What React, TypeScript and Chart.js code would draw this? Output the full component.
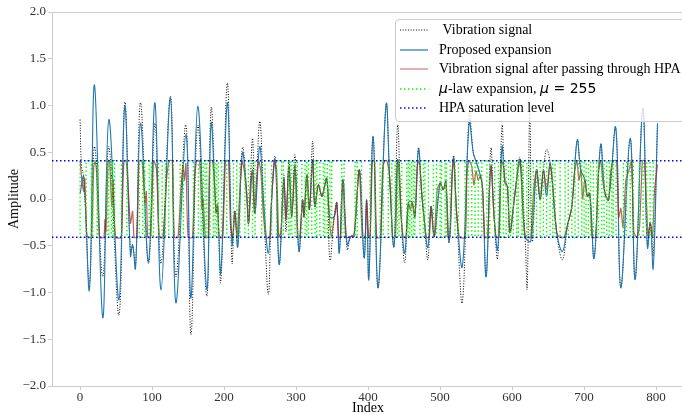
import React, { useEffect, useRef } from "react";
import { Chart, registerables } from "chart.js";

Chart.register(...registerables);

// Axis ticks
const xTicks = [0, 100, 200, 300, 400, 500, 600, 700, 800];
const yTicks = [-2, -1.5, -1, -0.5, 0, 0.5, 1, 1.5, 2];

// HPA saturation amplitude
const hpaSaturation = 0.41;

// Original vibration signal: [index, amplitude]
const vibrationSignal: [number, number][] = [
  [0, 0.85], [2, 0.35], [5, 0.24], [13, -0.9], [20, 0.56], [31.5, -0.83], [40, 0.56], [54, -1.24],
  [62, 1.03], [70, -0.58], [73, -0.49], [77, -0.74], [84, 1.03], [95, -0.69], [104, 0.81], [112.5, -0.69],
  [125.5, 1.1], [133, -0.83], [147, 0.79], [154, -1.45], [163.5, 0.79], [176, -1.04], [182, 0.97],
  [189, -0.15], [191, -0.08], [195.5, -0.88], [204.5, 1.24], [211, -0.68], [215, -0.13], [219, -0.51],
  [225.5, 0.55], [231.5, 0.06], [234, -0.26], [239.5, 0.65], [243, -0.15], [249.5, 0.83], [255, -0.04],
  [261.5, -1.02], [266, -0.01], [271, 0.45], [276.5, -0.7], [283, 0.25], [286, -0.35], [290, 0.4],
  [294, -0.19], [298.5, 0.47], [304, -0.56], [309, -0.01], [311, -0.19], [315, 0.26], [318.5, -0.11],
  [323, 0.62], [326, -0.08], [331, 0.15], [336, 0.03], [342.5, 0.22], [347, -0.65], [353, -0.19],
  [356.5, -0.04], [360, -0.56], [365, 0.21], [371, -0.54], [376, -0.4], [380.5, -0.4], [388, 0.31],
  [394.5, -0.63], [398, -0.01], [401, -0.85], [407, 0.67], [414, -0.95], [425, 1.01], [430.5, 0.13],
  [436, -0.51], [441, 0.79], [446, -0.19], [451, -0.68], [456, -0.04], [461, -0.03], [465, -0.19],
  [470, 0.55], [474.5, 0.06], [478, -0.22], [483, -0.65], [487.5, -0.08], [492, -0.4], [500, 0.17],
  [504.5, 0.1], [508, 0.19], [512.5, -0.47], [518.5, 0.46], [523, -0.15], [531, -1.1], [540.5, 0.92],
  [546, 0.5], [550, 0.4], [556, 0.25], [559, 0.12], [564, -0.83], [570.5, 0.54], [575, -0.19],
  [580, -0.63], [586, 0.78], [590, 0.2], [593.5, 0.13], [597, -0.36], [604, 0.06], [611, 0.44],
  [618, -0.4], [621, -0.95], [624.5, 0.92], [628, -0.45], [634, 0.31], [639, -0.01], [643.5, 0.31],
  [648, 0.53], [653, 0.38], [662, -0.36], [670, -0.65], [677, -0.28], [683, -0.08], [690.5, 0.63],
  [695.5, 0.31], [701, 0.21], [704.5, 0.03], [708, 0.06], [714, -0.63], [723, 0.58], [729, 0.06],
  [734, -0.01], [744, 0.76], [751, -0.95], [764, 0.65], [771, -0.86], [781.5, 0.97], [788, -0.52],
  [792, -0.25], [796, -0.6], [802, 0.81],
];

// Proposed expansion output: [index, amplitude]
const proposedExpansion: [number, number][] = [
  [0, 0.06], [5, 0.24], [13, -0.97], [20, 1.22], [31.5, -1.27], [40, 0.85], [54, -1.08], [62, 0.99],
  [70, -0.61], [73, -0.49], [77, -0.74], [84, 0.81], [95, -0.67], [104, 1.03], [112.5, -0.97],
  [125.5, 1.08], [133, -1.11], [147, 0.69], [154, -1.06], [163.5, 0.99], [176, -0.97], [182, 0.81],
  [189, -0.15], [191, -0.08], [195.5, -0.79], [204.5, 1.03], [211, -0.49], [215, -0.13], [219, -0.51],
  [225.5, 0.49], [231.5, 0.06], [234, -0.26], [239.5, 0.31], [243, -0.15], [249.5, 0.56], [255, -0.04],
  [261.5, -0.58], [266, -0.01], [271, 0.42], [276.5, -0.7], [283, 0.21], [286, -0.22], [290, 0.35],
  [294, -0.19], [298.5, 0.35], [304, -0.56], [309, -0.01], [311, -0.19], [315, 0.26], [318.5, -0.11],
  [323, 0.42], [326, -0.08], [331, 0.15], [336, 0.03], [342.5, 0.22], [347, -0.19], [353, -0.19],
  [356.5, -0.04], [360, -0.58], [365, 0.21], [371, -0.49], [376, -0.4], [380.5, -0.4], [388, 0.31],
  [394.5, -0.63], [398, -0.01], [401, -0.86], [407, 0.67], [414, -0.95], [425, 1.01], [430.5, 0.13],
  [436, -0.51], [441, 0.42], [446, -0.19], [451, -0.58], [456, -0.04], [461, -0.03], [465, -0.19],
  [470, 0.53], [474.5, 0.06], [478, -0.22], [483, -0.52], [487.5, -0.08], [492, -0.4], [500, 0.17],
  [504.5, 0.1], [508, 0.19], [512.5, -0.45], [518.5, 0.44], [523, -0.15], [531, -0.72], [540.5, 0.83],
  [546, 0.5], [550, 0.4], [556, 0.25], [559, 0.12], [564, -0.83], [570.5, 0.35], [575, -0.19],
  [580, -0.54], [586, 0.56], [590, 0.2], [593.5, 0.13], [597, -0.36], [604, 0.06], [611, 0.42],
  [618, -0.4], [626, -0.45], [634, 0.31], [639, -0.01], [643.5, 0.31], [648, 0.03], [653, 0.38],
  [662, -0.36], [670, -0.56], [677, -0.28], [683, -0.08], [690.5, 0.63], [695.5, 0.31], [701, 0.21],
  [704.5, 0.03], [708, 0.06], [714, -0.63], [723, 0.58], [729, 0.06], [734, -0.01], [744, 0.76],
  [751, -0.95], [764, 0.65], [771, -0.86], [781.5, 0.97], [788, -0.52], [792, -0.25], [796, -0.74],
  [802, 0.81],
];

// Signal after the HPA (saturated): [index, amplitude]
const hpaOutput: [number, number][] = [
  [0, 0.41], [2.5, 0.2], [5, 0.08], [6.5, 0.22], [9, -0.35], [11, -0.41], [16, -0.41], [19, 0.35],
  [21, 0.4], [23, 0.27], [27, -0.41], [33, -0.41], [34.5, -0.22], [36, -0.35], [39, 0.41], [41, 0.41],
  [44, -0.08], [46, 0.2], [49, -0.41], [57, -0.41], [59, 0.0], [61, 0.41], [64, 0.41], [67, 0.1],
  [70, -0.26], [73, -0.13], [75, -0.41], [79, -0.41], [82, 0.41], [86, 0.41], [90, -0.05], [92, 0.08],
  [94, -0.41], [98, -0.41], [102, 0.41], [106, 0.33], [110, -0.41], [115, -0.41], [120, 0.2],
  [124, 0.41], [128, 0.41], [131, -0.41], [136, -0.41], [140, 0.1], [143, 0.35], [145, 0.2],
  [147, 0.38], [150, -0.41], [156, -0.41], [159, 0.2], [162, 0.41], [166, 0.41], [169, -0.1],
  [171, 0.0], [174, -0.41], [178, -0.41], [180, 0.41], [184, 0.41], [187, 0.1], [189, -0.15],
  [191, -0.05], [193, -0.41], [198, -0.41], [202, 0.41], [206, 0.41], [209, -0.3], [212, -0.41],
  [215, -0.13], [218, -0.41], [222, 0.1], [225, 0.41], [228, 0.3], [231, 0.06], [234, -0.26],
  [237, 0.2], [239.5, 0.31], [242, -0.15], [245, 0.2], [248, 0.41], [251, 0.3], [254, -0.1],
  [258, -0.41], [264, -0.41], [266, -0.01], [270, 0.41], [273, 0.3], [276, -0.41], [279, -0.35],
  [283, 0.21], [286, -0.22], [290, 0.35], [294, -0.19], [298.5, 0.35], [302, -0.41], [305, -0.41],
  [309, -0.01], [311, -0.19], [315, 0.26], [318.5, -0.11], [323, 0.41], [326, -0.08], [331, 0.15],
  [336, 0.03], [342.5, 0.22], [346, -0.19], [349, -0.41], [353, -0.19], [356.5, -0.04], [359, -0.41],
  [362, -0.41], [365, 0.21], [369, -0.41], [373, -0.41], [376, -0.4], [380.5, -0.38], [384, 0.0],
  [388, 0.31], [392, -0.41], [396, -0.41], [398, -0.01], [401, -0.41], [403, -0.41], [406, 0.41],
  [409, 0.41], [412, -0.41], [417, -0.41], [420, 0.3], [423, 0.41], [426, 0.41], [429, 0.3],
  [431, 0.13], [434, -0.41], [438, -0.41], [441, 0.41], [443, 0.41], [446, -0.19], [449, -0.41],
  [453, -0.41], [456, -0.04], [459, -0.12], [461, -0.03], [465, -0.19], [468, 0.3], [470, 0.41],
  [472, 0.35], [474.5, 0.06], [478, -0.22], [481, -0.41], [485, -0.41], [487.5, -0.08], [490, -0.3],
  [492, -0.4], [496, 0.1], [500, 0.17], [504.5, 0.1], [508, 0.19], [511, -0.41], [514, -0.41],
  [517, 0.3], [519, 0.41], [523, -0.15], [527, -0.41], [535, -0.41], [537, 0.2], [540, 0.41],
  [544, 0.35], [547, 0.15], [550, 0.3], [553, 0.2], [556, 0.25], [559, 0.1], [562, -0.41],
  [566, -0.41], [569, 0.2], [571, 0.35], [575, -0.19], [578, -0.41], [582, -0.41], [585, 0.41],
  [588, 0.35], [590, 0.17], [593.5, 0.13], [597, -0.36], [600, -0.2], [604, 0.06], [608, 0.3],
  [611, 0.41], [615, -0.1], [618, -0.4], [622, -0.41], [626, -0.41], [630, 0.1], [634, 0.31],
  [639, -0.01], [643.5, 0.31], [648, 0.1], [653, 0.38], [657, 0.1], [662, -0.36], [666, -0.41],
  [672, -0.41], [677, -0.28], [683, -0.08], [687, 0.3], [690, 0.41], [693, 0.2], [695.5, 0.31],
  [698, 0.0], [701, 0.21], [704.5, 0.03], [708, 0.06], [711, -0.41], [716, -0.41], [720, 0.3],
  [723, 0.41], [726, 0.2], [729, 0.06], [734, -0.01], [737, 0.3], [741, 0.41], [745, 0.41],
  [748, -0.2], [751, -0.1], [754, -0.3], [758, 0.2], [762, 0.3], [766, 0.41], [769, -0.35],
  [773, -0.41], [777, -0.3], [781, 0.41], [784, 0.41], [787, -0.1], [789, -0.4], [792, -0.25],
  [795, -0.41], [798, 0.1], [802, 0.37],
];

// mu-law expansion: indices where the output flips between +/- saturation
const muLawStartLevel = 0.41;
const muLawSwitches = [
  8.3, 15.7, 17.6, 23.6, 25, 37.5, 39.8, 43.5, 45.4, 48, 57.4, 65, 82.4, 87, 89.8, 96, 99, 102, 109,
  114, 118.5, 123, 129.6, 139, 143.5, 157.4, 164.3, 168, 171, 173.6, 176, 180.6, 185, 187.5, 189.8,
  192, 196.8, 203.7, 213, 217.6, 222, 229, 233.8, 239.4, 243, 252.3, 257, 266, 273, 280, 282.4,
  289.4, 291.7, 294, 298.6, 301.8, 308, 312.5, 314.8, 317, 321.8, 326.4, 328.7, 333, 338, 340,
  343.5, 347, 349.5, 363.4, 366.7, 382, 385, 391, 402.8, 409.7, 416.7, 421, 428, 433, 437.5, 441,
  443, 446.8, 453.7, 456, 458, 460.6, 463, 465, 472, 476.8, 479, 483.8, 490.7, 495, 500, 502, 507,
  509, 514, 520.8, 525.5, 534.7, 539, 544, 548.6, 553, 558, 565, 569, 576, 581, 584, 588, 591.7,
  595, 598, 601.8, 606.5, 608.8, 613.5, 615.7, 620.4, 625, 629.6, 634, 639, 643.5, 648, 652.8,
  656.5, 659.7, 666.7, 673.6, 678, 683, 687.5, 692, 696.8, 700, 702.8, 706, 709, 713, 717.6, 720,
  724.6, 727.8, 731.5, 735, 738.5, 740.7, 744.4, 754.6, 759, 764, 768.5, 776.8, 782, 787, 791.7,
  796, 800,
];
const muLawEnd = 802;

const xMin = -39;
const xMax = 836;

const serif = "'Liberation Serif', 'Times New Roman', serif";
const mathFont = "'DejaVu Sans', sans-serif";
const spineColor = "#cccccc";
const textColor = "#333333";

const toPoints = (pairs: [number, number][]) => pairs.map(([x, y]) => ({ x, y }));

function buildMuLaw() {
  const pts = [{ x: 0, y: muLawStartLevel }];
  let level = muLawStartLevel;
  for (const t of muLawSwitches) {
    level = -level;
    pts.push({ x: t, y: level });
  }
  pts.push({ x: muLawEnd, y: level });
  return pts;
}

const topSpine = {
  id: "topSpine",
  afterDraw(chart: any) {
    const { ctx, chartArea } = chart;
    ctx.save();
    ctx.strokeStyle = spineColor;
    ctx.lineWidth = 1;
    ctx.beginPath();
    ctx.moveTo(chartArea.left, chartArea.top + 0.5);
    ctx.lineTo(chartArea.right, chartArea.top + 0.5);
    ctx.stroke();
    ctx.restore();
  },
};

type LegendEntry = {
  label: React.ReactNode;
  color: string;
  dash?: string;
  width: number;
  opacity?: number;
};

const legendEntries: LegendEntry[] = [
  { label: "\u00a0Vibration signal", color: "#000000", dash: "1 1.65", width: 1 },
  { label: "Proposed expansion", color: "#1f77b4", width: 1.2 },
  { label: "Vibration signal after passing through HPA", color: "#a52a2a", width: 1.2, opacity: 0.6 },
  {
    label: (
      <>
        <span style={{ fontFamily: mathFont, fontStyle: "italic" }}>μ</span>-law expansion,{" "}
        <span style={{ fontFamily: mathFont }}>
          <i>μ</i> = 255
        </span>
      </>
    ),
    color: "#00ff00",
    dash: "1.5 2.5",
    width: 1.5,
  },
  { label: "HPA saturation level", color: "#0000ff", dash: "1.5 2.5", width: 1.5 },
];

export default function App() {
  const canvasRef = useRef<HTMLCanvasElement | null>(null);

  useEffect(() => {
    if (!canvasRef.current) return;
    const satLine = (y: number) => [
      { x: xMin, y },
      { x: xMax, y },
    ];
    const chart = new Chart(canvasRef.current, {
      type: "line",
      data: {
        datasets: [
          {
            label: "Vibration signal",
            data: toPoints(vibrationSignal),
            borderColor: "#000000",
            borderWidth: 1,
            borderDash: [1, 1.65],
            pointRadius: 0,
            tension: 0.4,
            order: 5,
          },
          {
            label: "Proposed expansion",
            data: toPoints(proposedExpansion),
            borderColor: "#1f77b4",
            borderWidth: 1.1,
            pointRadius: 0,
            tension: 0.4,
            order: 4,
          },
          {
            label: "Vibration signal after passing through HPA",
            data: toPoints(hpaOutput),
            borderColor: "rgba(165,42,42,0.75)",
            borderWidth: 1.2,
            pointRadius: 0,
            tension: 0.2,
            order: 3,
          },
          {
            label: "μ-law expansion, μ = 255",
            data: buildMuLaw(),
            borderColor: "#00ff00",
            borderWidth: 1.4,
            borderDash: [1.5, 2.5],
            pointRadius: 0,
            stepped: "after",
            order: 2,
          },
          {
            label: "HPA saturation level",
            data: satLine(hpaSaturation),
            borderColor: "#0000ff",
            borderWidth: 1.5,
            borderDash: [1.5, 2.5],
            pointRadius: 0,
            order: 1,
          },
          {
            label: "HPA saturation level (lower)",
            data: satLine(-hpaSaturation),
            borderColor: "#0000ff",
            borderWidth: 1.5,
            borderDash: [1.5, 2.5],
            pointRadius: 0,
            order: 1,
          },
        ],
      },
      options: {
        responsive: false,
        animation: false,
        devicePixelRatio: 1,
        parsing: false,
        normalized: true,
        layout: { padding: { top: 12, right: 0, left: 0, bottom: 0 } },
        plugins: {
          legend: { display: false },
          tooltip: { enabled: false },
        },
        scales: {
          x: {
            type: "linear",
            min: xMin,
            max: xMax,
            afterFit: (s: any) => {
              s.height = 29;
            },
            afterBuildTicks: (s: any) => {
              s.ticks = xTicks.map((v) => ({ value: v }));
            },
            ticks: {
              autoSkip: false,
              maxRotation: 0,
              padding: 0,
              color: textColor,
              font: { family: serif, size: 13 },
              callback: (v: any) => String(v),
            },
            grid: {
              drawOnChartArea: false,
              drawTicks: true,
              tickLength: 4,
              color: spineColor,
            },
            border: { display: true, color: spineColor },
          },
          y: {
            type: "linear",
            min: -2,
            max: 2,
            afterFit: (s: any) => {
              s.width = 52;
            },
            afterBuildTicks: (s: any) => {
              s.ticks = yTicks.map((v) => ({ value: v }));
            },
            ticks: {
              autoSkip: false,
              padding: 2,
              color: textColor,
              font: { family: serif, size: 13 },
              callback: (v: any) => (v < 0 ? "\u2212" : "") + Math.abs(Number(v)).toFixed(1),
            },
            grid: {
              drawOnChartArea: false,
              drawTicks: true,
              tickLength: 4,
              color: spineColor,
            },
            border: { display: true, color: spineColor },
          },
        },
      },
      plugins: [topSpine],
    } as any);
    return () => chart.destroy();
  }, []);

  const rowCenters = [30, 49.5, 69, 88.5, 108];

  return (
    <div
      style={{
        position: "fixed",
        left: 0,
        top: 0,
        width: 682,
        height: 415,
        overflow: "hidden",
        background: "#ffffff",
      }}
    >
      <canvas ref={canvasRef} width={682} height={415} style={{ display: "block" }} />
      <div
        style={{
          position: "absolute",
          left: 14,
          top: 199,
          transform: "translate(-50%, -50%) rotate(-90deg)",
          fontFamily: serif,
          fontSize: 14,
          color: "#000",
          whiteSpace: "nowrap",
        }}
      >
        Amplitude
      </div>
      <div
        style={{
          position: "absolute",
          left: 368,
          top: 408,
          transform: "translate(-50%, -50%)",
          fontFamily: serif,
          fontSize: 14,
          lineHeight: "14px",
          color: "#000",
          whiteSpace: "nowrap",
        }}
      >
        Index
      </div>
      <div
        style={{
          position: "absolute",
          left: 395,
          top: 19,
          width: 300,
          height: 103,
          border: `1px solid ${spineColor}`,
          borderRadius: 4,
          background: "rgba(255,255,255,0.8)",
          boxSizing: "border-box",
        }}
      />
      {legendEntries.map((e, i) => (
        <div
          key={i}
          style={{
            position: "absolute",
            left: 400,
            top: rowCenters[i] - 10,
            height: 20,
            display: "flex",
            alignItems: "center",
            whiteSpace: "nowrap",
            fontFamily: serif,
            fontSize: 14,
            color: "#000",
          }}
        >
          <svg width={28} height={10} style={{ display: "block", marginRight: 11 }}>
            <line
              x1={0}
              y1={5}
              x2={28}
              y2={5}
              stroke={e.color}
              strokeWidth={e.width}
              strokeDasharray={e.dash}
              strokeOpacity={e.opacity ?? 1}
            />
          </svg>
          <span>{e.label}</span>
        </div>
      ))}
    </div>
  );
}
